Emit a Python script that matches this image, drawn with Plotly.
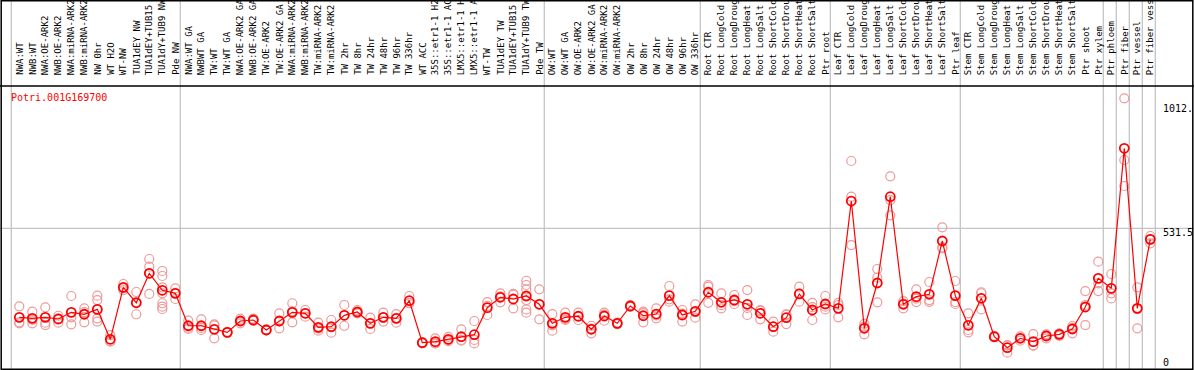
import plotly.graph_objects as go

gene_id = "Potri.001G169700"

categories = [
    "NWA:WT", "NWB:WT", "NWA:OE-ARK2", "NWB:OE-ARK2", "NWA:miRNA-ARK2", "NWB:miRNA-ARK2",
    "NW 0hr", "WT H2O", "WT-NW", "TUA1dEY NW", "TUA1dEY+TUB15 NW", "TUA1dY+TUB9 NW", "Pde NW",
    "NWA:WT GA", "NWBWT GA", "TW:WT", "TW:WT GA", "NWA:OE-ARK2 GA", "NWB:OE-ARK2 GA",
    "TW:OE-ARK2", "TW:OE-ARK2 GA", "NWA:miRNA-ARK2", "NWB:miRNA-ARK2", "TW:miRNA-ARK2",
    "TW:miRNA-ARK2", "TW 2hr", "TW 8hr", "TW 24hr", "TW 48hr", "TW 96hr", "TW 336hr",
    "WT ACC", "35S::etr1-1 H2O", "35S::etr1-1 ACC", "LMX5::etr1-1 H2O", "LMX5::etr1-1 ACC",
    "WT-TW", "TUA1dEY TW", "TUA1dEY+TUB15 TW", "TUA1dY+TUB9 TW", "Pde TW",
    "OW:WT", "OW:WT GA", "OW:OE-ARK2", "OW:OE-ARK2 GA", "OW:miRNA-ARK2", "OW:miRNA-ARK2",
    "OW 2hr", "OW 8hr", "OW 24hr", "OW 48hr", "OW 96hr", "OW 336hr",
    "Root CTR", "Root LongCold", "Root LongDrought", "Root LongHeat", "Root LongSalt",
    "Root ShortCold", "Root ShortDrought", "Root ShortHeat", "Root ShortSalt", "Ptr root",
    "Leaf CTR", "Leaf LongCold", "Leaf LongDrought", "Leaf LongHeat", "Leaf LongSalt",
    "Leaf ShortCold", "Leaf ShortDrought", "Leaf ShortHeat", "Leaf ShortSalt", "Ptr leaf",
    "Stem CTR", "Stem LongCold", "Stem LongDrought", "Stem LongHeat", "Stem LongSalt",
    "Stem ShortCold", "Stem ShortDrought", "Stem ShortHeat", "Stem ShortSalt", "Ptr shoot",
    "Ptr xylem", "Ptr phloem", "Ptr fiber", "Ptr vessel", "Ptr fiber vessel",
]

mean_values = [
    167.6, 163.5, 167.6, 160.7, 188, 180, 200, 77.7, 290, 227, 347.5, 278, 265.7,
    133, 133, 118.6, 106, 152.5, 156.6, 115.7, 152.5, 188, 184, 126.7, 129.2,
    175.8, 189.3, 143, 167.6, 163.5, 235.5, 63.8, 67.9, 77.7, 88.3, 96.5,
    207, 249.4, 242.4, 254.7, 220.8,
    143, 167.6, 172, 118.6, 173, 143, 213.8, 174, 181, 256, 177, 192,
    270, 229, 238.4, 220.8, 184, 129.2, 166, 263, 197.5, 222,
    204.4, 643, 122.7, 307.8, 660.7, 220.8, 252, 261.7, 479.6, 256,
    135, 245.3, 88.3, 43.4, 81.8, 68, 91.2, 98, 119.8, 209.7,
    327, 286, 858.6, 204.4, 486.5,
]

replicate_values = [
    [212.6, 147, 143], [190.5, 157, 143], [208.5, 145.6, 136], [174, 162, 145.6],
    [254.7, 167.6, 139], [204.4, 189, 147], [256, 238, 163.5, 150], [95, 70, 68],
    [303.8, 287, 279], [271, 230, 180], [406, 374.5, 347, 263],
    [357, 336.5, 290, 265.7, 225, 211, 201.6], [286, 268, 242.5],
    [153.7, 125, 120], [159.5, 124, 115.7], [139, 135, 81.8], [108, 106, 104],
    [162, 152, 143], [162, 154, 153.7], [118, 115, 114], [184, 151, 122.7],
    [225, 192, 147], [197.5, 184, 170], [145.6, 121, 113], [156.6, 126, 104.7],
    [218, 176, 133], [197.5, 186, 184], [166, 143, 120], [186.4, 166, 150],
    [181, 164, 145.6], [254.7, 227, 225], [66, 64, 61], [81.8, 61, 61],
    [88, 75, 70], [118.6, 75, 72], [152.5, 75, 61], [230, 214, 177],
    [265.7, 253, 229], [263, 260, 204.4], [317, 299.7, 282, 238, 200, 186.4],
    [282, 221, 159.5],
    [181, 135, 113], [186.4, 160, 156.6], [186.4, 173, 156.6], [133, 121, 102],
    [186.4, 179, 153.7], [146, 143, 140], [218, 213, 210], [190.5, 185, 147],
    [204.4, 175, 163.5], [295.6, 241, 231.4], [197.5, 183, 150], [220.8, 189, 166],
    [299.7, 292.7, 227], [265.7, 217, 204.4], [258.8, 234, 222], [279, 206, 177],
    [197.5, 195, 159.5], [150, 129, 108.8], [180, 178, 140], [292.7, 265, 231.4],
    [227, 209, 156.6], [254.7, 211, 200],
    [227, 218, 167.6], [806.7, 660.7, 463], [141, 129.2, 98], [365, 329.5, 229],
    [744, 647, 584.6], [234, 224, 204.4], [282, 244, 230], [312, 238, 231],
    [535.6, 453.5, 449.7], [316, 230, 222],
    [184, 115.7, 106], [270, 266, 200], [92, 88, 85], [54, 53, 23], [90, 82, 72],
    [99, 53, 51.5], [98, 95, 81.8], [102, 100, 92], [132, 125, 102], [275, 218, 136],
    [395, 306.6, 275], [344.6, 265.7, 245], [1063, 810.7, 704.4], [290, 200.5, 122.7],
    [500, 486.5, 470],
]

# group boundaries (index of last category in each group)
group_ends = [-1, 12, 40, 52, 62, 72, 83, 84, 85, 86, 87]

axis_values = [0, 531.5, 1040]
axis_labels = ["0", "531.5", "1012."]

LABEL_CHARS = 14  # the reference shows only this many characters of each label

W, H = 1194, 370
PLOT_TOP = 86

x_idx = list(range(len(categories)))
rep_x, rep_y = [], []
for i, reps in enumerate(replicate_values):
    for v in reps:
        rep_x.append(i)
        rep_y.append(v)

fig = go.Figure()
fig.add_trace(go.Scatter(
    x=rep_x, y=rep_y, mode="markers",
    marker=dict(symbol="circle-open", size=9, color="#ee9a9a", line=dict(width=1.2, color="#ee9a9a")),
    hoverinfo="skip", showlegend=False,
))
fig.add_trace(go.Scatter(
    x=x_idx, y=mean_values, mode="lines+markers",
    line=dict(color="#ff0000", width=1.2),
    marker=dict(symbol="circle-open", size=9, color="#ff0000", line=dict(width=1.8, color="#ff0000")),
    showlegend=False,
))

mono = "DejaVu Sans Mono"
ann = []
for i, c in enumerate(categories):
    ann.append(dict(x=i, y=1 - 77 / H, xref="x", yref="paper", text=c[:LABEL_CHARS], textangle=-90,
                    showarrow=False, xanchor="center", yanchor="bottom",
                    font=dict(family=mono, size=9, color="black")))
ann.append(dict(x=9 / W, y=1 - 97 / H, xref="paper", yref="paper", text=gene_id,
                showarrow=False, xanchor="left", yanchor="middle",
                font=dict(family=mono, size=10, color="#ff0000")))
for v, t in zip(axis_values, axis_labels):
    ann.append(dict(x=1161 / W, y=v, xref="paper", yref="y", text=t, showarrow=False,
                    xanchor="left", yanchor="top", yshift=3,
                    font=dict(family=mono, size=10, color="black")))

shapes = []
for b in group_ends:
    shapes.append(dict(type="line", xref="x", yref="paper", x0=b + 0.385, x1=b + 0.385,
                       y0=0, y1=1, line=dict(color="#c4c4c4", width=1.3), layer="below"))
shapes.append(dict(type="line", xref="paper", yref="y", x0=0, x1=1, y0=531.5, y1=531.5,
                   line=dict(color="#c4c4c4", width=1.3), layer="below"))
shapes.append(dict(type="line", xref="paper", yref="paper", x0=0, x1=1,
                   y0=1 - PLOT_TOP / H, y1=1 - PLOT_TOP / H, line=dict(color="black", width=1.5)))
shapes.append(dict(type="rect", xref="paper", yref="paper", x0=0.001, x1=0.999, y0=0.002, y1=0.998,
                   line=dict(color="black", width=1.5)))

# y mapping: 0 at px 358.3, 0.24459 px per unit
scale = 0.24459
y_lo = -(H - 358.3) / scale
y_hi = (358.3 - PLOT_TOP) / scale
x_lo = -19.3 / 13
x_hi = (W - 19.3) / 13

fig.update_layout(
    width=W, height=H, margin=dict(l=0, r=0, t=0, b=0),
    paper_bgcolor="white", plot_bgcolor="white",
    xaxis=dict(range=[x_lo, x_hi], showgrid=False, zeroline=False, showticklabels=False,
               ticks="", showline=False, fixedrange=True),
    yaxis=dict(range=[y_lo, y_hi], domain=[0, 1 - PLOT_TOP / H], showgrid=False, zeroline=False,
               showticklabels=False, ticks="", showline=False, fixedrange=True),
    annotations=ann, shapes=shapes, showlegend=False,
)

fig.write_html(
    "out.html",
    config={"displayModeBar": False},
    post_script="document.body.style.margin='0';document.body.style.overflow='hidden';",
)
